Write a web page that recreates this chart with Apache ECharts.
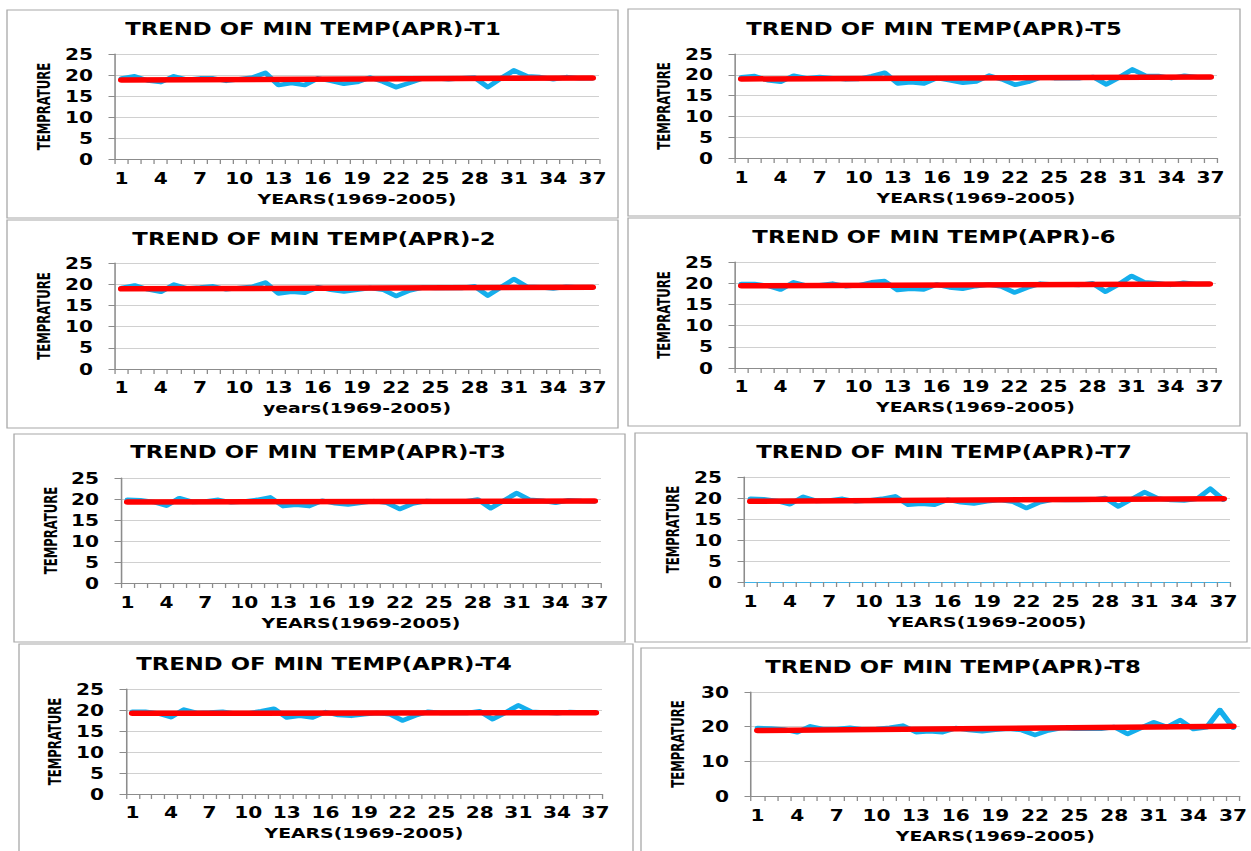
<!DOCTYPE html>
<html>
<head>
<meta charset="utf-8">
<script src="https://cdn.jsdelivr.net/npm/echarts@6/dist/echarts.min.js"></script>
<style>
  html, body { margin: 0; padding: 0; background: #ffffff; overflow: hidden; }
  #wrap { position: absolute; left: 0; top: 0; width: 1251px; height: 851px; overflow: hidden; }
  #chart { position: absolute; left: 0; top: 0; height: 851px; transform-origin: 0 0; }
</style>
</head>
<body>
<div id="wrap"><div id="chart"></div></div>
<script>
// ---------------- DATA ----------------
const years = ['1','2','3','4','5','6','7','8','9','10','11','12','13','14','15','16','17','18','19','20','21','22','23','24','25','26','27','28','29','30','31','32','33','34','35','36','37'];

const titles = [
  'TREND OF MIN TEMP(APR)-T1',
  'TREND OF MIN TEMP(APR)-2',
  'TREND OF MIN TEMP(APR)-T3',
  'TREND OF MIN TEMP(APR)-T4',
  'TREND OF MIN TEMP(APR)-T5',
  'TREND OF MIN TEMP(APR)-6',
  'TREND OF MIN TEMP(APR)-T7',
  'TREND OF MIN TEMP(APR)-T8'
];
const xNames = ['YEARS(1969-2005)','years(1969-2005)','YEARS(1969-2005)','YEARS(1969-2005)',
                'YEARS(1969-2005)','YEARS(1969-2005)','YEARS(1969-2005)','YEARS(1969-2005)'];
const yName = 'TEMPRATURE';

const tempT1 = [19.2,19.7,18.7,18.3,19.7,18.9,19.2,19.2,18.6,19.0,19.4,20.5,17.6,18.1,17.6,19.2,18.6,17.9,18.3,19.4,18.4,17.1,18.1,19.2,19.2,19.0,19.2,19.4,17.1,19.2,21.1,19.7,19.5,19.0,19.5,19.2,19.2];
const temp2  = [19.1,19.7,18.8,18.2,19.9,19.0,19.2,19.5,18.8,19.1,19.4,20.4,17.8,18.2,18.0,19.3,18.7,18.3,18.7,19.1,18.7,17.2,18.5,19.2,19.1,19.1,19.1,19.5,17.3,19.3,21.2,19.4,19.3,19.0,19.4,19.2,19.2];
const tempT3 = [19.8,19.7,19.3,18.4,20.2,19.3,19.4,19.8,19.2,19.4,19.8,20.4,18.3,18.6,18.3,19.6,19.0,18.7,19.1,19.5,19.1,17.6,18.9,19.5,19.4,19.4,19.4,19.9,17.8,19.6,21.4,19.8,19.6,19.1,19.7,19.5,19.4];
const tempT4 = [19.6,19.6,19.2,18.3,20.1,19.3,19.4,19.6,19.1,19.2,19.7,20.3,18.2,18.6,18.2,19.5,18.8,18.6,19.0,19.3,19.0,17.5,18.7,19.6,19.3,19.3,19.3,19.7,17.8,19.4,21.1,19.6,19.4,19.2,19.5,19.4,19.4];
const tempT5 = [19.4,19.7,18.7,18.3,19.8,19.2,19.5,19.2,18.9,19.0,19.7,20.5,17.9,18.2,17.9,19.2,18.7,18.1,18.4,19.8,18.9,17.6,18.3,19.4,19.2,19.2,19.2,19.5,17.7,19.4,21.3,19.8,19.7,19.2,19.8,19.4,19.4];
const temp6  = [19.8,19.8,19.4,18.5,20.2,19.4,19.5,19.9,19.3,19.5,20.2,20.5,18.4,18.7,18.5,19.7,19.0,18.7,19.3,19.7,19.2,17.8,19.0,19.9,19.7,19.7,19.6,20.0,18.0,19.7,21.7,20.2,20.0,19.6,20.1,19.8,19.8];
const tempT7 = [19.8,19.7,19.3,18.5,20.3,19.3,19.4,19.8,19.2,19.4,19.8,20.4,18.4,18.6,18.4,19.6,19.0,18.7,19.2,19.5,19.1,17.6,19.0,19.6,19.5,19.5,19.6,20.0,18.0,19.7,21.4,19.9,19.5,19.4,19.8,22.2,19.6];
const tempT8 = [19.6,19.5,19.2,18.4,20.1,19.3,19.3,19.7,19.2,19.3,19.7,20.3,18.4,18.7,18.4,19.6,19.0,18.7,19.1,19.4,19.0,17.6,18.9,19.6,19.4,19.4,19.4,19.9,17.9,19.6,21.3,19.9,21.9,19.3,19.8,24.8,19.7];

// linear trend lines: value at year 1 and at year 37
const trendStart = [18.8, 18.9, 19.3, 19.2, 19.0, 19.4, 19.2, 18.9];
const trendEnd   = [19.3, 19.3, 19.5, 19.35, 19.45, 19.8, 19.85, 20.1];

const yMax      = [25, 25, 25, 25, 25, 25, 25, 30];
const yInterval = [5, 5, 5, 5, 5, 5, 5, 10];

const allTemps = [tempT1, temp2, tempT3, tempT4, tempT5, temp6, tempT7, tempT8];

// ---------------- LAYOUT (real pixel coordinates) ----------------
const SX = 1.3; // horizontal stretch of the original picture
const layouts = [
  {box:[7,10,618,218],   plot:[115,599,54,159],  title:[313,29],  yNameX:45,  xLab:179, xName:199},
  {box:[7,220,618,428],  plot:[115,599,263,369], title:[314,239], yNameX:45,  xLab:388, xName:408},
  {box:[14,434,625,642], plot:[121,601,478,583], title:[318,452], yNameX:52,  xLab:603, xName:623},
  {box:[19,644,633,860], plot:[126,602,689,794], title:[324,664], yNameX:56,  xLab:813, xName:833},
  {box:[628,9,1240,216], plot:[735,1217,54,158], title:[934,29],  yNameX:665, xLab:178, xName:198},
  {box:[628,218,1240,426],plot:[735,1216,262,368],title:[934,237],yNameX:665, xLab:387, xName:407},
  {box:[635,433,1247,642],plot:[744,1230,477,582],title:[944,452],yNameX:674, xLab:602, xName:622},
  {box:[641,648,1260,860],plot:[751,1241,692,796],title:[953,667],yNameX:679, xLab:816, xName:836}
];
const X = v => v / SX;

const BLUE = '#14AEEC';
const RED = '#FF0000';
const FONT = "'DejaVu Sans', Verdana, sans-serif";
const NARROW = "'Liberation Sans Narrow', 'DejaVu Sans Condensed', sans-serif";
const LBL = 15.5;

const el = document.getElementById('chart');
el.style.width = X(1251) + 'px';
el.style.transform = 'scaleX(' + SX + ')';

const grids = [], xAxes = [], yAxes = [], series = [], graphics = [];

layouts.forEach((L, i) => {
  const [pl, pr, pt, pb] = L.plot;
  grids.push({ left: X(pl), top: pt, width: X(pr - pl), height: pb - pt, containLabel: false });
  xAxes.push({
    type: 'category', gridIndex: i, data: years, boundaryGap: true,
    axisLine: { show: true, lineStyle: { color: i === 6 ? '#3FB4EA' : '#8C8C8C', width: 1.2 } },
    axisTick: { show: true, interval: 0, length: 5, lineStyle: { color: '#8C8C8C' } },
    axisLabel: { interval: 2, margin: L.xLab - pb - 9, color: '#000', fontFamily: FONT, fontWeight: 'bold', fontSize: LBL },
    name: xNames[i], nameLocation: 'middle', nameGap: L.xName - pb - 8,
    nameTextStyle: { color: '#000', fontFamily: FONT, fontWeight: 'bold', fontSize: 14.5 },
    splitLine: { show: false }
  });
  yAxes.push({
    type: 'value', gridIndex: i, min: 0, max: yMax[i], interval: yInterval[i],
    axisLine: { show: true, lineStyle: { color: '#8C8C8C', width: 1.2 } },
    axisTick: { show: true, length: 5, lineStyle: { color: '#8C8C8C' } },
    axisLabel: { margin: X(22), color: '#000', fontFamily: FONT, fontWeight: 'bold', fontSize: LBL },
    splitLine: { show: true, lineStyle: { color: '#D0D0D0', width: 1 } },
    name: yName, nameLocation: 'middle', nameRotate: 90, nameGap: X(pl - L.yNameX) - 6,
    nameTextStyle: { color: '#000', fontFamily: NARROW, fontWeight: 'bold', fontSize: 13 }
  });
  series.push({
    type: 'line', xAxisIndex: i, yAxisIndex: i, data: allTemps[i],
    showSymbol: false, symbol: 'none', silent: true,
    lineStyle: { color: BLUE, width: 4.5, join: 'round', cap: 'round' }, z: 2
  });
  series.push({
    type: 'line', xAxisIndex: i, yAxisIndex: i,
    data: [[years[0], trendStart[i]], [years[years.length - 1], trendEnd[i]]],
    showSymbol: false, symbol: 'none', silent: true,
    lineStyle: { color: RED, width: 5.5, cap: 'round' }, z: 3
  });
  const [bl, bt, br, bb] = L.box;
  graphics.push({
    type: 'rect', silent: true, z: -1,
    shape: { x: X(bl), y: bt, width: X(br - bl), height: bb - bt },
    style: { fill: 'none', stroke: '#A8A8A8', lineWidth: 1 }
  });
  graphics.push({
    type: 'text', silent: true,
    x: X(L.title[0]), y: L.title[1],
    style: { text: titles[i], fill: '#000', font: 'bold 17.5px ' + FONT, align: 'center', verticalAlign: 'middle' }
  });
});

const chart = echarts.init(el, null, { renderer: 'svg', width: X(1251), height: 851 });
chart.setOption({
  animation: false,
  backgroundColor: '#ffffff',
  grid: grids, xAxis: xAxes, yAxis: yAxes, series: series,
  graphic: { elements: graphics }
});
</script>
</body>
</html>
